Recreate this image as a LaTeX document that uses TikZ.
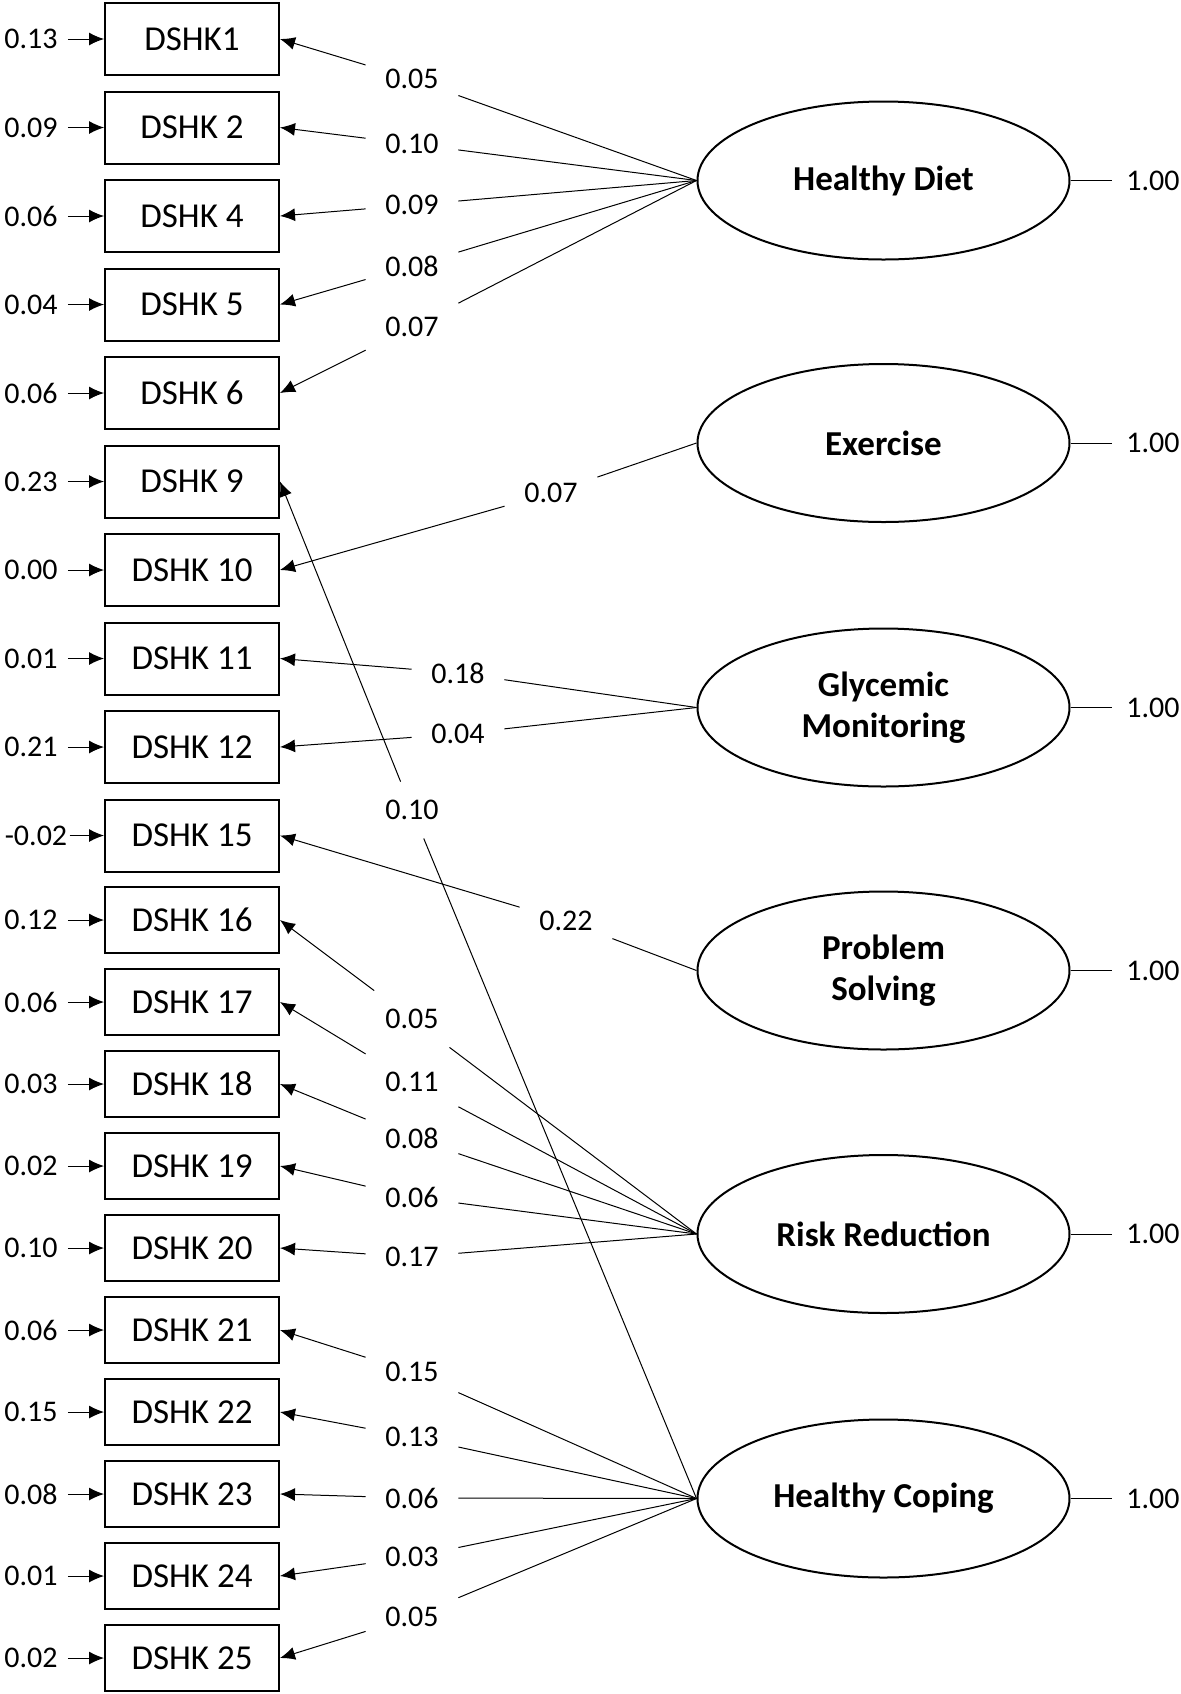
\documentclass[tikz,border=0pt]{standalone}
\usepackage{fontspec}
\setmainfont{Carlito}
\usepackage{tikz}
\usetikzlibrary{shapes,positioning}
\usetikzlibrary{arrows.meta}
\tikzset{
	item/.style={draw,line width=1pt,minimum width=87pt,minimum height=36pt,inner sep=0pt,font=\fontsize{17.5}{21}\selectfont},
	itemb/.style={item,minimum height=33pt},
	latent/.style={draw,ellipse,line width=1pt,minimum width=186pt,minimum height=79pt,align=center,font=\fontsize{17.5}{20.5}\selectfont\bfseries},
	coef/.style={minimum width=46pt,minimum height=28pt,inner sep=0pt},
	err/.style={inner xsep=5pt,inner ysep=0pt},
	load/.style={line width=0.5pt,-{Latex[length=7.5pt,width=6.5pt]}}
}

\begin{document}
\begin{tikzpicture}[x=0.5pt,y=-0.5pt,every node/.style={font=\fontsize{15}{18}\selectfont}]
\useasboundingbox (0,0) rectangle (1181,1694);

%Items
\node[item] (b1) at (192,39) {DSHK1};
\node[item] (b2) at (192,127.5) {DSHK 2};
\node[item] (b4) at (192,216) {DSHK 4};
\node[item] (b5) at (192,304.5) {DSHK 5};
\node[item] (b6) at (192,393) {DSHK 6};
\node[item] (b9) at (192,481.5) {DSHK 9};
\node[item] (b10) at (192,570) {DSHK 10};
\node[item] (b11) at (192,658.5) {DSHK 11};
\node[item] (b12) at (192,747) {DSHK 12};
\node[item] (b15) at (192,835.5) {DSHK 15};
\node[itemb] (b16) at (192,920) {DSHK 16};
\node[itemb] (b17) at (192,1002) {DSHK 17};
\node[itemb] (b18) at (192,1084) {DSHK 18};
\node[itemb] (b19) at (192,1166) {DSHK 19};
\node[itemb] (b20) at (192,1248) {DSHK 20};
\node[itemb] (b21) at (192,1330) {DSHK 21};
\node[itemb] (b22) at (192,1412) {DSHK 22};
\node[itemb] (b23) at (192,1494) {DSHK 23};
\node[itemb] (b24) at (192,1576) {DSHK 24};
\node[itemb] (b25) at (192,1658) {DSHK 25};

%Erreurs
\node[err] (e1) at (31,39) {0.13};
\node[err] (e2) at (31,127.5) {0.09};
\node[err] (e4) at (31,216) {0.06};
\node[err] (e5) at (31,304.5) {0.04};
\node[err] (e6) at (31,393) {0.06};
\node[err] (e9) at (31,481.5) {0.23};
\node[err] (e10) at (31,570) {0.00};
\node[err] (e11) at (31,658.5) {0.01};
\node[err] (e12) at (31,747) {0.21};
\node[err,inner xsep=1pt] (e15) at (36,835.5) {-0.02};
\node[err] (e16) at (31,920) {0.12};
\node[err] (e17) at (31,1002) {0.06};
\node[err] (e18) at (31,1084) {0.03};
\node[err] (e19) at (31,1166) {0.02};
\node[err] (e20) at (31,1248) {0.10};
\node[err] (e21) at (31,1330) {0.06};
\node[err] (e22) at (31,1412) {0.15};
\node[err] (e23) at (31,1494) {0.08};
\node[err] (e24) at (31,1576) {0.01};
\node[err] (e25) at (31,1658) {0.02};

\draw[load] (e1) -- (b1);
\draw[load] (e2) -- (b2);
\draw[load] (e4) -- (b4);
\draw[load] (e5) -- (b5);
\draw[load] (e6) -- (b6);
\draw[load] (e9) -- (b9);
\draw[load] (e10) -- (b10);
\draw[load] (e11) -- (b11);
\draw[load] (e12) -- (b12);
\draw[load] (e15) -- (b15);
\draw[load] (e16) -- (b16);
\draw[load] (e17) -- (b17);
\draw[load] (e18) -- (b18);
\draw[load] (e19) -- (b19);
\draw[load] (e20) -- (b20);
\draw[load] (e21) -- (b21);
\draw[load] (e22) -- (b22);
\draw[load] (e23) -- (b23);
\draw[load] (e24) -- (b24);
\draw[load] (e25) -- (b25);

%Facteurs
\node[latent] (HD) at (883.5,180.5) {Healthy Diet};
\node[latent] (EX) at (883.5,443) {Exercise};
\node[latent] (GM) at (883.5,707.5) {Glycemic\\Monitoring};
\node[latent] (PS) at (883.5,970.5) {Problem\\Solving};
\node[latent] (RR) at (883.5,1234) {Risk Reduction};
\node[latent] (HC) at (883.5,1498.5) {Healthy Coping};

%Variances
\node[err,inner xsep=7pt] (v1) at (1153,180.5) {1.00};
\node[err,inner xsep=7pt] (v2) at (1153,443) {1.00};
\node[err,inner xsep=7pt] (v3) at (1153,707.5) {1.00};
\node[err,inner xsep=7pt] (v4) at (1153,970.5) {1.00};
\node[err,inner xsep=7pt] (v5) at (1153,1234) {1.00};
\node[err,inner xsep=7pt] (v6) at (1153,1498.5) {1.00};
\draw[line width=0.5pt] (HD) -- (v1);
\draw[line width=0.5pt] (EX) -- (v2);
\draw[line width=0.5pt] (GM) -- (v3);
\draw[line width=0.5pt] (PS) -- (v4);
\draw[line width=0.5pt] (RR) -- (v5);
\draw[line width=0.5pt] (HC) -- (v6);

%Saturations
\node[coef] (c1) at (412,79) {0.05};
\node[coef] (c2) at (412,144) {0.10};
\node[coef] (c4) at (412,205) {0.09};
\node[coef] (c5) at (412,266) {0.08};
\node[coef] (c6) at (412,327) {0.07};
\node[coef] (c10) at (551,493) {0.07};
\node[coef] (c11) at (458,673) {0.18};
\node[coef] (c12) at (458,734) {0.04};
\node[coef] (c9) at (412,810) {0.10};
\node[coef] (c15) at (566,921) {0.22};
\node[coef] (c16) at (412,1019) {0.05};
\node[coef] (c17) at (412,1082) {0.11};
\node[coef] (c18) at (412,1138) {0.08};
\node[coef] (c19) at (412,1197) {0.06};
\node[coef] (c20) at (412,1257) {0.17};
\node[coef] (c21) at (412,1372) {0.15};
\node[coef] (c22) at (412,1437) {0.13};
\node[coef] (c23) at (412,1498) {0.06};
\node[coef] (c24) at (412,1557) {0.03};
\node[coef] (c25) at (412,1617) {0.05};

\draw[load] (HD.west) -- (c1) -- (b1.east);
\draw[load] (HD.west) -- (c2) -- (b2.east);
\draw[load] (HD.west) -- (c4) -- (b4.east);
\draw[load] (HD.west) -- (c5) -- (b5.east);
\draw[load] (HD.west) -- (c6) -- (b6.east);
\draw[load] (EX.west) -- (c10) -- (b10.east);
\draw[load] (GM.west) -- (c11) -- (b11.east);
\draw[load] (GM.west) -- (c12) -- (b12.east);
\draw[load] (HC.west) -- (c9) -- (b9.east);
\draw[load] (PS.west) -- (c15) -- (b15.east);
\draw[load] (RR.west) -- (c16) -- (b16.east);
\draw[load] (RR.west) -- (c17) -- (b17.east);
\draw[load] (RR.west) -- (c18) -- (b18.east);
\draw[load] (RR.west) -- (c19) -- (b19.east);
\draw[load] (RR.west) -- (c20) -- (b20.east);
\draw[load] (HC.west) -- (c21) -- (b21.east);
\draw[load] (HC.west) -- (c22) -- (b22.east);
\draw[load] (HC.west) -- (c23) -- (b23.east);
\draw[load] (HC.west) -- (c24) -- (b24.east);
\draw[load] (HC.west) -- (c25) -- (b25.east);

\end{tikzpicture}
\end{document}
